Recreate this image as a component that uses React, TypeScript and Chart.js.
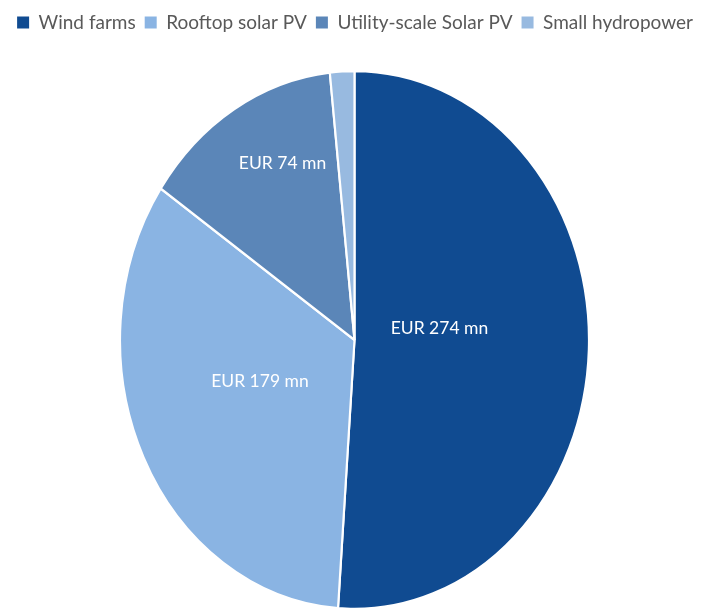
import React, { useEffect, useRef } from "react";
import { Chart, registerables } from "chart.js";

Chart.register(...registerables);

const categories = ["Wind farms", "Rooftop solar PV", "Utility-scale Solar PV", "Small hydropower"];
const values = [274, 179, 74, 9];
const valueLabels = ["EUR 274 mn", "EUR 179 mn", "EUR 74 mn", ""];
const colors = ["#104B91", "#8AB4E3", "#5B86B8", "#98BAE0"];

// label placement: polar angle (deg, clockwise from top) and radius fraction
const labelAngles = [83, 249, 335, 0];
const labelRadii = [0.365, 0.432, 0.726, 0];

const ELLIPSE = { cx: 354.5, cy: 340, rx: 234.5, ry: 269 };

const ellipsePlugin = {
  id: "ellipsePie",
  beforeDatasetsDraw(chart: any) {
    const arc = chart.getDatasetMeta(0).data[0];
    if (!arc) return;
    const { x, y, outerRadius } = arc.getProps(["x", "y", "outerRadius"], true);
    const ctx = chart.ctx;
    ctx.save();
    ctx.translate(ELLIPSE.cx, ELLIPSE.cy);
    ctx.scale(ELLIPSE.rx / outerRadius, ELLIPSE.ry / outerRadius);
    ctx.translate(-x, -y);
  },
  afterDatasetsDraw(chart: any) {
    const ctx = chart.ctx;
    ctx.restore();
    ctx.save();
    ctx.fillStyle = "#FFFFFF";
    ctx.font = "17.5px Lato";
    ctx.textAlign = "center";
    ctx.textBaseline = "middle";
    valueLabels.forEach((t, i) => {
      if (!t) return;
      const a = (labelAngles[i] * Math.PI) / 180;
      const px = ELLIPSE.cx + ELLIPSE.rx * labelRadii[i] * Math.sin(a);
      const py = ELLIPSE.cy - ELLIPSE.ry * labelRadii[i] * Math.cos(a);
      ctx.fillText(t, px, py);
    });
    ctx.restore();
  },
};

export default function App() {
  const ref = useRef<HTMLCanvasElement | null>(null);
  useEffect(() => {
    document.body.style.margin = "0";
    if (!ref.current) return;
    const chart = new Chart(ref.current, {
      type: "pie",
      data: {
        labels: categories,
        datasets: [
          {
            data: values,
            backgroundColor: colors,
            borderColor: "#FFFFFF",
            borderWidth: 2.5,
          },
        ],
      },
      options: {
        responsive: false,
        animation: false,
        layout: { padding: { top: 4, bottom: 20 } },
        plugins: {
          tooltip: { enabled: false },
          legend: {
            position: "top",
            labels: {
              boxWidth: 12,
              boxHeight: 12,
              padding: 9,
              color: "#595959",
              font: { family: "Lato", size: 19 },
              generateLabels: (c: any) => {
                const base = (Chart as any).overrides.pie.plugins.legend.labels.generateLabels(c);
                return base.map((l: any) => ({ ...l, lineWidth: 0, strokeStyle: "transparent" }));
              },
            },
          },
        },
      },
      plugins: [ellipsePlugin],
    });
    return () => chart.destroy();
  }, []);
  return (
    <div style={{ width: 710, height: 608 }}>
      <canvas ref={ref} width={710} height={608} style={{ display: "block" }} />
    </div>
  );
}
